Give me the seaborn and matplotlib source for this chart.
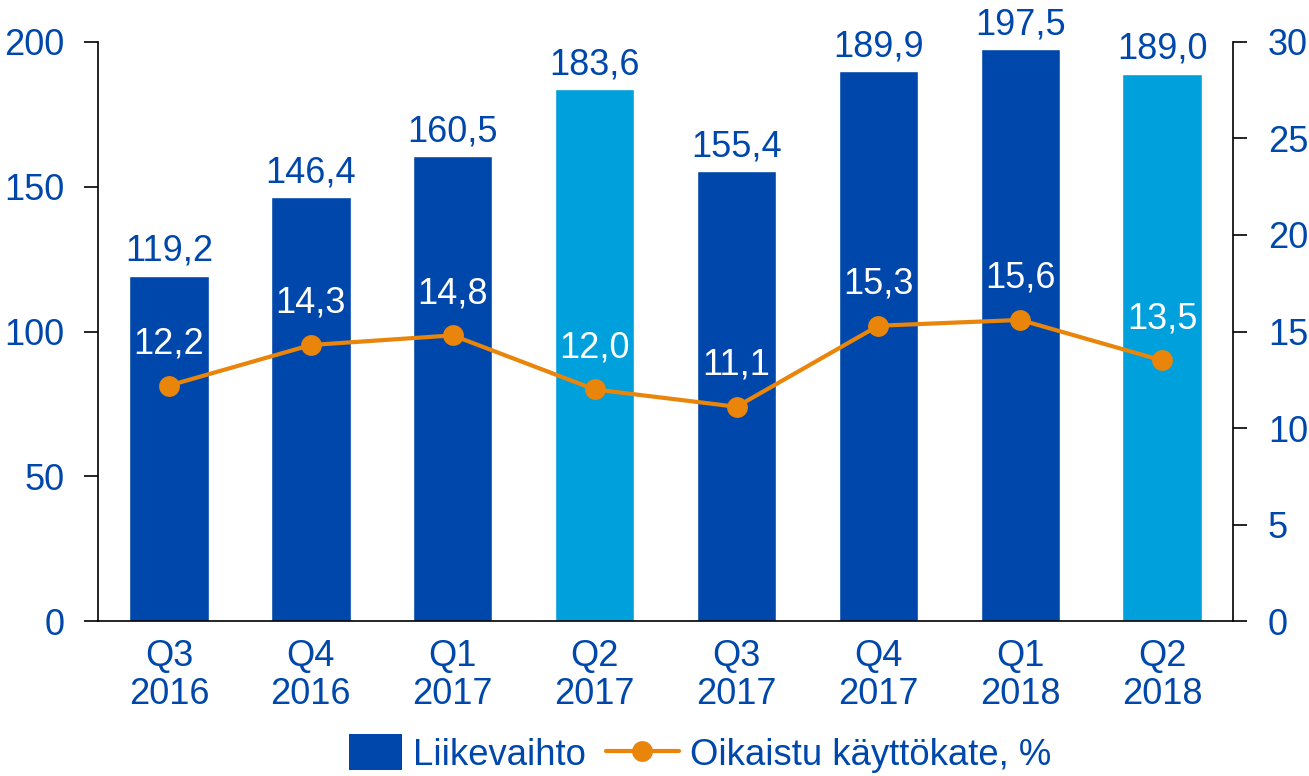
import matplotlib
matplotlib.use("Agg")
import matplotlib.pyplot as plt
from matplotlib.lines import Line2D
from matplotlib.patches import Patch, Rectangle
from matplotlib.legend_handler import HandlerPatch
import seaborn as sns
import pandas as pd

# Data
quarters = ["Q3\n2016", "Q4\n2016", "Q1\n2017", "Q2\n2017",
            "Q3\n2017", "Q4\n2017", "Q1\n2018", "Q2\n2018"]
liikevaihto = [119.2, 146.4, 160.5, 183.6, 155.4, 189.9, 197.5, 189.0]
kayttokate = [12.2, 14.3, 14.8, 12.0, 11.1, 15.3, 15.6, 13.5]
highlight = [False, False, False, True, False, False, False, True]

DARK = "#0047AB"
LIGHT = "#00A0DC"
ORANGE = "#E8850A"
TEXT = "#0047AB"
FS = 26

sns.set_theme(style="white")
plt.rcParams["font.family"] = ["Liberation Sans", "DejaVu Sans"]

df = pd.DataFrame({"Quarter": quarters, "Liikevaihto": liikevaihto,
                   "Kate": kayttokate})
bar_colors = [LIGHT if h else DARK for h in highlight]

fig = plt.figure(figsize=(13.09, 7.76), dpi=100)
ax = fig.add_axes([0.0749, 0.1997, 0.8671, 0.7462])

sns.barplot(data=df, x="Quarter", y="Liikevaihto", hue="Quarter",
            palette=bar_colors, width=0.56, legend=False, ax=ax,
            saturation=1)
ax.set_xlim(-0.5, len(quarters) - 0.5)
ax.set_ylim(0, 200)
ax.set_yticks([0, 50, 100, 150, 200])
ax.set_xlabel("")
ax.set_ylabel("")

for i, v in enumerate(liikevaihto):
    ax.text(i, v + 5.2, f"{v:.1f}".replace(".", ","), ha="center",
            va="baseline", fontsize=FS, color=TEXT)

ax2 = ax.twinx()
sns.lineplot(x=list(range(len(quarters))), y=kayttokate, ax=ax2,
             color=ORANGE, linewidth=3.0, marker="o", markersize=15,
             markeredgewidth=0)
ax2.set_ylim(0, 30)
ax2.set_yticks([0, 5, 10, 15, 20, 25, 30])
ax2.set_xlim(-0.5, len(quarters) - 0.5)

for i, v in enumerate(kayttokate):
    ax2.text(i, v + 1.66, f"{v:.1f}".replace(".", ","), ha="center",
             va="baseline", fontsize=FS, color="white")

for a in (ax, ax2):
    a.spines["top"].set_visible(False)
    for s in ("left", "right", "bottom"):
        a.spines[s].set_color("black")
        a.spines[s].set_linewidth(1.2)
    a.grid(False)

ax.spines["right"].set_visible(False)
ax2.spines["left"].set_visible(False)
ax2.spines["bottom"].set_visible(False)

ax.tick_params(axis="y", length=10, width=1.2, color="black", direction="out",
               left=True, labelsize=FS, labelcolor=TEXT, pad=14)
ax.tick_params(axis="x", length=0, labelsize=FS, labelcolor=TEXT, pad=13)
for lbl in ax.get_xticklabels():
    lbl.set_linespacing(1.1)
ax2.tick_params(axis="y", length=10, width=1.2, color="black", direction="out",
                right=True, labelsize=FS, labelcolor=TEXT, pad=15)


# narrower square for the bar legend entry
def square_patch(legend, orig_handle, xdescent, ydescent, width, height,
                 fontsize):
    w = width * 53 / 73
    return Rectangle((-xdescent + width - w, -ydescent - height * 0.15),
                     w, height * 1.3)


handles = [Patch(facecolor=DARK, edgecolor="none", label="Liikevaihto"),
           Line2D([0], [0], color=ORANGE, linewidth=3.0, marker="o",
                  markersize=15, markeredgewidth=0,
                  label="Oikaistu käyttökate, %")]
leg = fig.legend(handles=handles, loc="center", ncol=2, frameon=False,
                 bbox_to_anchor=(0.527, 0.027), fontsize=26.3,
                 handlelength=2.0, handleheight=0.8, columnspacing=0.55,
                 handletextpad=0.3,
                 handler_map={Patch: HandlerPatch(patch_func=square_patch)})
for t in leg.get_texts():
    t.set_color(TEXT)

fig.savefig("out.png", dpi=100)
